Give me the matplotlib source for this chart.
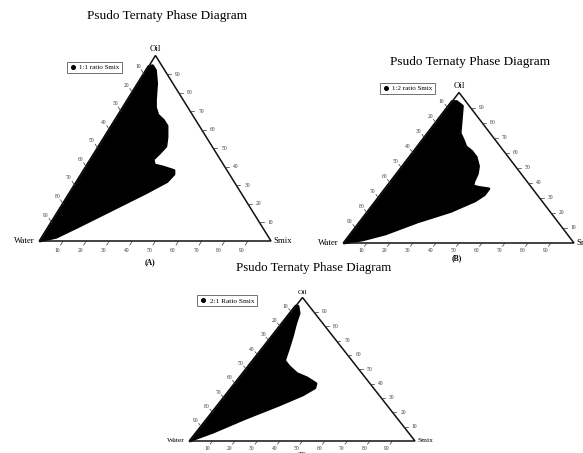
import numpy as np
import matplotlib
matplotlib.use("Agg")
import matplotlib.pyplot as plt
from matplotlib.lines import Line2D

plt.rcParams["font.family"] = "serif"
plt.rcParams["font.serif"] = ["Liberation Serif", "DejaVu Serif"]

W_PX, H_PX = 583, 453

# microemulsion region boundary for each Smix ratio, in % oil and % Smix (water = rest)
oil_a = [0, 94, 94.5, 92, 85, 76, 72, 68, 65, 62, 56, 51, 47, 44, 41, 40, 38, 36, 32, 26, 17, 8, 2]
smix_a = [0, 0, 1.5, 4, 8, 12, 14, 17, 21, 24, 27, 29, 28, 27, 29, 33, 39, 40, 39, 33, 23, 13, 6]

oil_b = [0, 94, 94, 91, 82, 73, 68, 64, 61, 57, 51, 46, 41, 38, 37, 36, 32, 28, 21, 14, 6, 2]
smix_b = [0, 0, 2, 6, 10, 14, 18, 21, 25, 29, 33, 35, 36, 37, 40, 45, 45, 43, 36, 25, 15, 7]

oil_c = [0, 94, 94, 89, 82, 73, 63, 56, 52, 47, 44, 40, 37, 32, 25, 16, 6, 2]
smix_c = [0, 0, 1, 4, 6, 9, 12, 14, 18, 24, 30, 36, 37, 34, 27, 17, 7, 2]

legend_labels = ["1:1 ratio Smix", "1:2 ratio Smix", "2:1 Ratio Smix"]
panel_labels = ["(A)", "(B)", "(C)"]
tick_values = [10, 20, 30, 40, 50, 60, 70, 80, 90]
title_text = "Psudo Ternaty Phase Diagram"


def to_xy(oil, smix):
    # ternary (oil, smix, water) -> cartesian in a unit triangle, oil at the apex
    oil = np.asarray(oil, dtype=float) / 100
    smix = np.asarray(smix, dtype=float) / 100
    return smix + 0.5 * oil, oil


def fig_xy(x, y):
    return x / W_PX, 1 - y / H_PX


def draw_panel(fig, tri_box, oil, smix, label, panel, legend_xy, title_xy, panel_xy,
               fs_vertex=6.3, fs_legend=5.0, fs_title=9.5):
    l, t, r, b = tri_box
    ax = fig.add_axes([l / W_PX, 1 - b / H_PX, (r - l) / W_PX, (b - t) / H_PX])
    ax.set_xlim(0, 1)
    ax.set_ylim(0, 1)
    ax.axis("off")

    # region
    x, y = to_xy(oil, smix)
    ax.fill(x, y, color="black", lw=2.0, joinstyle="round", clip_on=False)

    # triangle
    vx, vy = to_xy([0, 0, 100, 0], [0, 100, 0, 0])
    ax.plot(vx, vy, color="#111111", lw=1.1, clip_on=False, solid_joinstyle="miter")

    tick_len = 0.022
    lab_off = 0.05
    tick_kw = dict(color="#333333", lw=0.5, clip_on=False)
    txt_kw = dict(fontsize=4.0, color="#333333", ha="center", va="center")
    for tv in tick_values:
        # bottom axis: Smix
        bx, by = to_xy(0, tv)
        ax.plot([bx, bx - 0.5 * tick_len], [by, by - tick_len], **tick_kw)
        ax.text(bx - 0.5 * lab_off, by - lab_off, str(tv), **txt_kw)
        # left axis: Water
        lx, ly = to_xy(100 - tv, 0)
        ax.plot([lx, lx - 0.5 * tick_len], [ly, ly + tick_len], **tick_kw)
        ax.text(lx - 0.5 * lab_off, ly + lab_off * 0.8, str(tv), **txt_kw)
        # right axis: Oil
        rx, ry = to_xy(tv, 100 - tv)
        ax.plot([rx, rx + tick_len * 0.8], [ry, ry], **tick_kw)
        ax.text(rx + lab_off * 0.95, ry, str(tv), **txt_kw)

    # vertex names
    ax.annotate("Oil", (vx[2], vy[2]), xytext=(0, 2), textcoords="offset points",
                ha="center", va="bottom", fontsize=fs_vertex)
    ax.annotate("Water", (vx[0], vy[0]), xytext=(-4, 0), textcoords="offset points",
                ha="right", va="center", fontsize=fs_vertex)
    ax.annotate("Smix", (vx[1], vy[1]), xytext=(1.5, 0), textcoords="offset points",
                ha="left", va="center", fontsize=fs_vertex)

    handle = Line2D([0], [0], marker="o", color="black", ls="", ms=2.6)
    leg = ax.legend([handle], [label], loc="upper left",
                    bbox_to_anchor=fig_xy(*legend_xy), bbox_transform=fig.transFigure,
                    fontsize=fs_legend, frameon=True, fancybox=False, borderpad=0.35,
                    handlelength=0.9, handletextpad=0.5, borderaxespad=0)
    leg.get_frame().set_edgecolor("#333333")
    leg.get_frame().set_linewidth(0.6)

    fig.text(*fig_xy(*title_xy), title_text, fontsize=fs_title, ha="center", va="center")
    fig.text(*fig_xy(*panel_xy), panel, fontsize=5.5,
             fontweight="bold", ha="center", va="center")
    return ax


fig = plt.figure(figsize=(W_PX / 100, H_PX / 100), dpi=100)

draw_panel(fig, (40, 55.5, 271, 241), oil_a, smix_a, legend_labels[0], panel_labels[0],
           legend_xy=(67, 62), title_xy=(167.5, 16), panel_xy=(150, 262))
draw_panel(fig, (344, 92.5, 574, 243), oil_b, smix_b, legend_labels[1], panel_labels[1],
           legend_xy=(380, 83), title_xy=(470, 62), panel_xy=(457, 258))
draw_panel(fig, (190, 297.5, 415, 441), oil_c, smix_c, legend_labels[2], panel_labels[2],
           legend_xy=(197, 295), title_xy=(314, 268), panel_xy=(302, 455),
           fs_vertex=5.4, fs_legend=5.2, fs_title=9.3)

fig.savefig("out.png", dpi=100)
